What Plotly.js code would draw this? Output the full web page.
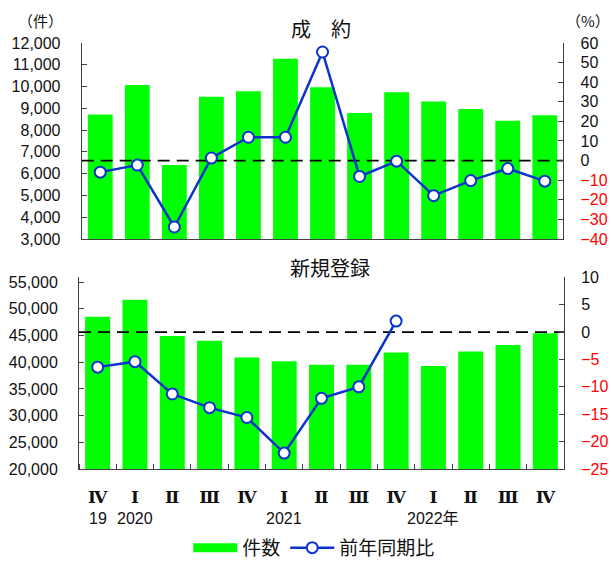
<!DOCTYPE html>
<html>
<head>
<meta charset="utf-8">
<script src="https://cdn.plot.ly/plotly-3.0.1.min.js"></script>
<style>html,body{margin:0;padding:0;background:#fff;}#chart{width:611px;height:579px;}</style>
</head>
<body>
<div id="chart"></div>
<script>
// ---- data ----
const categories = ["2019Q4","2020Q1","2020Q2","2020Q3","2020Q4","2021Q1","2021Q2","2021Q3","2021Q4","2022Q1","2022Q2","2022Q3","2022Q4"];
const quarterLabels = ["Ⅳ","Ⅰ","Ⅱ","Ⅲ","Ⅳ","Ⅰ","Ⅱ","Ⅲ","Ⅳ","Ⅰ","Ⅱ","Ⅲ","Ⅳ"];
const yearLabels = ["19","2020","","","","2021","","","","2022年","","",""];
const contracts = [8720, 10070, 6400, 9530, 9780, 11280, 9970, 8780, 9740, 9310, 8970, 8430, 8680];
const contractsYoY = [-5.9, -2.3, -33.9, 1.3, 11.9, 11.9, 55.4, -8.1, -0.3, -17.9, -10.2, -4.1, -10.5];
const listings = [48500, 51700, 44900, 44000, 40900, 40200, 39500, 39500, 41800, 39300, 42000, 43200, 45400];
const listingsYoY = [-6.4, -5.4, -11.3, -13.8, -15.6, -22.1, -12.1, -10.0, 2.0, null, null, null, null];
const topRightTicks = [-40,-30,-20,-10,0,10,20,30,40,50,60];
const bottomRightTicks = [-25,-20,-15,-10,-5,0,5,10];

// ---- styles ----
const GREEN = '#00FF00';
const BLUE = '#0A32CC';
const AXIS = '#404040';
const NUMFONT = 'Liberation Sans, Arial, Noto Sans CJK JP, sans-serif';
const JPFONT = 'Noto Sans CJK JP, sans-serif';

const xs = categories.map((c, i) => i);
const xr = [-0.5, categories.length - 0.5];
const pctText = v => v < 0 ? '<span style="color:#FF0000">\u2212' + Math.abs(v) + '</span>' : String(v);

const lineStyle = {color: BLUE, width: 2.5};
const markerStyle = {symbol: 'circle', size: 11, color: '#FFFFFF', line: {color: BLUE, width: 2}};
const dashStyle = {color: '#000000', width: 1.8, dash: '12px,7px'};

const traces = [
  {type: 'bar', x: xs, y: contracts, xaxis: 'x', yaxis: 'y', marker: {color: GREEN}, width: 0.67, showlegend: false, hoverinfo: 'skip'},
  {type: 'scatter', mode: 'lines', x: xr, y: [0, 0], xaxis: 'x', yaxis: 'y2', line: dashStyle, showlegend: false, hoverinfo: 'skip'},
  {type: 'scatter', mode: 'lines+markers', x: xs, y: contractsYoY, xaxis: 'x', yaxis: 'y2', line: lineStyle, marker: markerStyle, showlegend: false},
  {type: 'bar', x: xs, y: listings, xaxis: 'x2', yaxis: 'y3', marker: {color: GREEN}, width: 0.67, showlegend: false, hoverinfo: 'skip'},
  {type: 'scatter', mode: 'lines', x: xr, y: [0, 0], xaxis: 'x2', yaxis: 'y4', line: dashStyle, showlegend: false, hoverinfo: 'skip'},
  {type: 'scatter', mode: 'lines+markers', x: xs, y: listingsYoY, xaxis: 'x2', yaxis: 'y4', line: lineStyle, marker: markerStyle, name: '前年同期比', showlegend: true, legendrank: 2},
  // legend entry for the bars (wide green swatch)
  {type: 'scatter', mode: 'lines', x: [null], y: [null], xaxis: 'x2', yaxis: 'y3', line: {color: GREEN, width: 9}, name: '件数', showlegend: true, legendrank: 1}
];

const yLeftCommon = {
  tickformat: ',d', ticks: 'inside', ticklen: 5, tickcolor: AXIS,
  showline: true, linecolor: AXIS, linewidth: 1, showgrid: false, zeroline: false,
  tickfont: {family: NUMFONT, size: 16, color: '#111'}, ticklabelstandoff: 17, fixedrange: true
};
const yRightCommon = {
  side: 'right', ticks: 'inside', ticklen: 5, tickcolor: AXIS, tickmode: 'array',
  showline: true, linecolor: AXIS, linewidth: 1, showgrid: false, zeroline: false,
  tickfont: {family: NUMFONT, size: 16, color: '#111'}, ticklabelstandoff: 13, fixedrange: true
};

const layout = {
  width: 611, height: 579,
  margin: {l: 79, r: 47, t: 43, b: 93},
  paper_bgcolor: '#FFFFFF', plot_bgcolor: '#FFFFFF',
  font: {family: NUMFONT, size: 16, color: '#111'},
  showlegend: true,
  legend: {orientation: 'h', x: 0.485, xanchor: 'center', y: -0.185, yanchor: 'middle',
           font: {family: JPFONT, size: 19, color: '#111'}, itemwidth: 44, traceorder: 'normal',
           bgcolor: 'rgba(0,0,0,0)', itemclick: false},
  xaxis: {domain: [0.0056, 0.9986], range: xr, anchor: 'y', showline: true, linecolor: AXIS, linewidth: 1,
          showticklabels: false, ticks: '', showgrid: false, zeroline: false, fixedrange: true},
  yaxis: Object.assign({}, yLeftCommon, {domain: [0.540, 1], range: [3000, 12000], dtick: 1000, anchor: 'x'}),
  yaxis2: Object.assign({}, yRightCommon, {overlaying: 'y', anchor: 'x', range: [-40, 60],
          tickvals: topRightTicks, ticktext: topRightTicks.map(pctText)}),
  xaxis2: {domain: [0, 1], range: xr, anchor: 'y3', showline: true, linecolor: AXIS, linewidth: 1,
           tickmode: 'array', tickvals: xs, ticktext: quarterLabels, ticks: '',
           tickfont: {family: 'DejaVu Serif, Liberation Serif, serif', size: 17, weight: 'bold', color: '#111'},
           ticklabelstandoff: 13,
           minor: {tick0: 0.5, dtick: 1, ticks: 'inside', ticklen: 5, tickcolor: AXIS, showgrid: false},
           showgrid: false, zeroline: false, fixedrange: true},
  yaxis3: Object.assign({}, yLeftCommon, {domain: [0, 0.450], range: [20000, 55900], dtick: 5000, tick0: 0, anchor: 'x2'}),
  yaxis4: Object.assign({}, yRightCommon, {overlaying: 'y3', anchor: 'x2', range: [-25, 10],
          tickvals: bottomRightTicks, ticktext: bottomRightTicks.map(pctText)}),
  annotations: [
    {text: '成　約', xref: 'paper', yref: 'paper', x: 0.499, y: 1.034, showarrow: false, font: {family: JPFONT, size: 20, color: '#111'}, xanchor: 'center', yanchor: 'middle'},
    {text: '新規登録', xref: 'paper', yref: 'paper', x: 0.5175, y: 0.474, showarrow: false, font: {family: JPFONT, size: 20, color: '#111'}, xanchor: 'center', yanchor: 'middle'},
    {text: '（件）', xref: 'paper', yref: 'paper', x: -0.0804, y: 1.052, showarrow: false, font: {family: JPFONT, size: 15, color: '#111'}, xanchor: 'center', yanchor: 'middle'},
    {text: '（%）', xref: 'paper', yref: 'paper', x: 1.0495, y: 1.052, showarrow: false, font: {family: JPFONT, size: 15, color: '#111'}, xanchor: 'center', yanchor: 'middle'}
  ].concat(yearLabels.map((t, i) => ({
    text: t, xref: 'x2', yref: 'paper', x: i, y: -0.117, showarrow: false,
    font: {family: NUMFONT, size: 16, color: '#111'}, xanchor: 'center', yanchor: 'middle', visible: t !== ''
  })))
};

Plotly.newPlot('chart', traces, layout, {staticPlot: true, displayModeBar: false});
</script>
</body>
</html>
